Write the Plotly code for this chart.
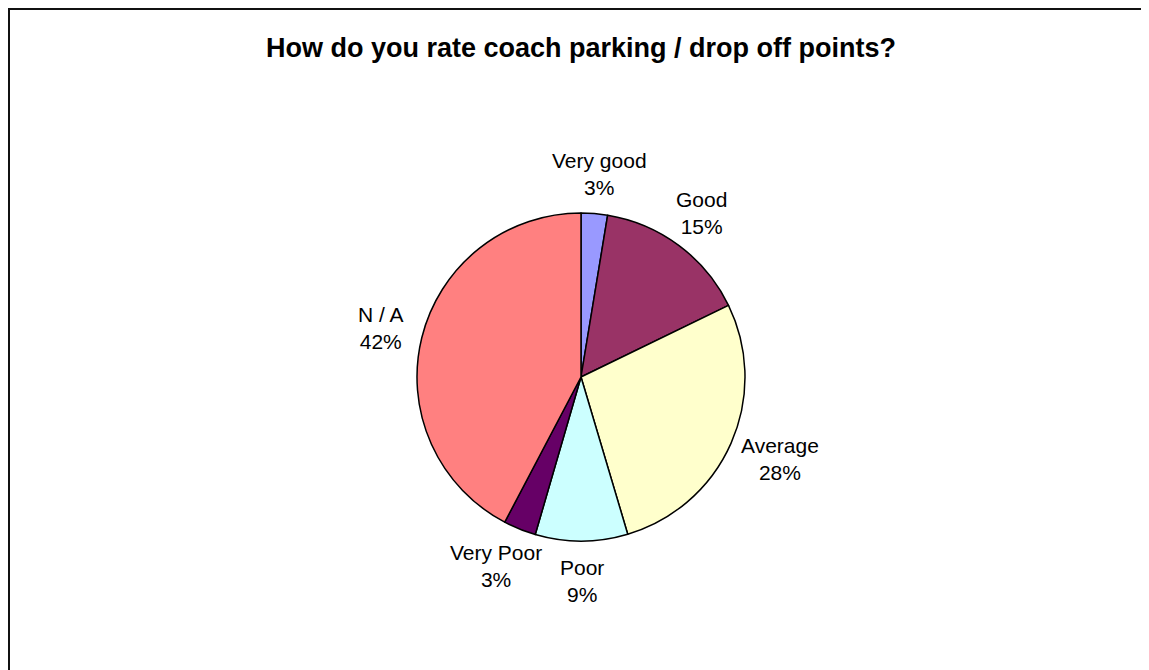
import math
import plotly.graph_objects as go

categories = ["Very good", "Good", "Average", "Poor", "Very Poor", "N / A"]
values = [2.6, 15.2, 27.6, 9.1, 3.2, 42.3]
colors = ["#9999FF", "#993366", "#FFFFCC", "#CCFFFF", "#660066", "#FF8080"]
title_text = "How do you rate coach parking / drop off points?"

W, H = 1149, 670
cx, cy, r = 573, 369, 164     # pie centre / radius in figure pixels
FONT = "Liberation Sans, Arial"
LABEL_FS = 21

fig = go.Figure(go.Pie(
    labels=categories,
    values=values,
    sort=False,
    direction="clockwise",
    rotation=0,
    marker=dict(colors=colors, line=dict(color="black", width=1.5)),
    textinfo="none",
    domain=dict(x=[(cx - r) / W, (cx + r) / W], y=[1 - (cy + r) / H, 1 - (cy - r) / H]),
    showlegend=False,
    hoverinfo="label+percent",
))

# outside data labels, positioned from each slice's mid-angle
total = sum(values)
annotations = []
cum = 0.0
gap = 15
for lab, v in zip(categories, values):
    theta = 2 * math.pi * (cum + v / 2) / total
    cum += v
    ux, uy = math.sin(theta), -math.cos(theta)
    pct = round(100 * v / total)
    w = max(len(lab), len(f"{pct}%")) * 0.52 * LABEL_FS
    h = 50
    px = cx + (r + gap) * ux + ux * w / 2
    py = cy + (r + gap) * uy + uy * h / 2
    annotations.append(dict(
        x=px / W, y=1 - py / H, xref="paper", yref="paper",
        text=f"{lab}<br>{pct}%", showarrow=False,
        xanchor="center", yanchor="middle", align="center",
        font=dict(family=FONT, size=LABEL_FS, color="black"),
    ))

fig.update_layout(
    width=W, height=H,
    margin=dict(l=0, r=0, t=0, b=0),
    paper_bgcolor="white",
    plot_bgcolor="white",
    title=dict(
        text=f"<b>{title_text}</b>",
        x=cx / W, xanchor="center", y=1 - 40 / H, yanchor="middle",
        font=dict(family=FONT, size=27, color="black"),
    ),
    annotations=annotations,
    shapes=[dict(
        type="rect", xref="paper", yref="paper",
        x0=1 / W, x1=1.05, y0=-0.05, y1=1 - 1 / H,
        line=dict(color="#111111", width=2), fillcolor="rgba(0,0,0,0)",
    )],
)

fig.write_html("out.html")
